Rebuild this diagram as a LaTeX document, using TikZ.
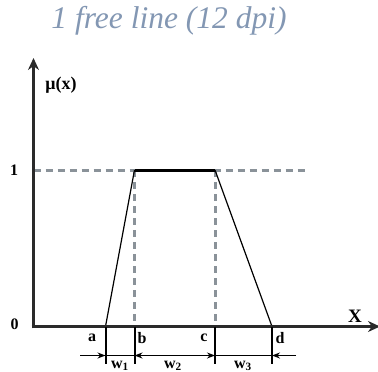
\documentclass[tikz,border=0pt]{standalone}
\usepackage{fontspec}
\setmainfont{Liberation Serif}
\usetikzlibrary{arrows.meta}
\definecolor{titlec}{HTML}{8397B3}
\definecolor{dashc}{HTML}{8A9299}
\definecolor{axisc}{HTML}{2A2A2A}
\tikzset{
  axis/.style={line width=3.6pt, draw=axisc, -{Stealth[length=12pt,width=11pt]}},
  guide/.style={line width=3pt, draw=dashc, dash pattern=on 7pt off 5pt},
  memb/.style={line width=1.2pt, draw=black},
  tick/.style={line width=2pt, draw=black},
  dim/.style={line width=1.6pt, draw=black},
  lab/.style={font=\bfseries\fontsize{16}{18}\selectfont, inner sep=0pt},
}
\begin{document}
\begin{tikzpicture}[x=1pt,y=-1pt]
\useasboundingbox (0,0) rectangle (378,372);
\node[font=\itshape\fontsize{31.5}{34}\selectfont, text=titlec, inner sep=0pt] (title) at (169,21) {1 free line (12 dpi)};
% axes
\coordinate (O) at (33.5,326.5);
\coordinate (ytop) at (33.5,58);
\coordinate (xend) at (380,326.5);
% points
\coordinate (a) at (105.5,326.5);
\coordinate (b) at (134.5,326.5);
\coordinate (c) at (215,326.5);
\coordinate (d) at (272,326.5);
\coordinate (bt) at (134.5,170);
\coordinate (ct) at (215,170);
\coordinate (ly) at (33.5,170);
\coordinate (lend) at (308,170);
% guides
\draw[guide] (ly) -- (lend);
\draw[guide] (bt) -- (b);
\draw[guide] (ct) -- (c);
% membership
\draw[memb] (a) -- (bt);
\draw[memb] (ct) -- (d);
\draw[line width=3pt] (bt) -- (ct);
% axes
\draw[axis] (33.5,328.3) -- (ytop);
\draw[axis] (31.7,326.5) -- (xend);
% ticks
\coordinate (ta) at (105.5,364);
\coordinate (tb) at (134.5,364);
\coordinate (tc) at (215,364);
\coordinate (td) at (272,364);
\draw[tick] (a) -- (ta);
\draw[tick] (b) -- (tb);
\draw[tick] (c) -- (tc);
\draw[tick] (d) -- (td);
% dimension arrows
\coordinate (la) at (80,355.5);
\coordinate (da) at (105.5,355.5);
\coordinate (db) at (134.5,355.5);
\coordinate (dc) at (215,355.5);
\coordinate (dd) at (272,355.5);
\coordinate (rd) at (296,355.5);
\draw[dim, -{Stealth[length=8pt,width=6pt]}] (la) -- (da);
\draw[dim] (da) -- (db);
\draw[dim, {Stealth[length=8pt,width=6pt]}-{Stealth[length=8pt,width=6pt]}] (db) -- (dc);
\draw[dim] (dc) -- (dd);
\draw[dim, -{Stealth[length=8pt,width=6pt]}] (rd) -- (dd);
% labels
\node[lab, font=\bfseries\fontsize{18}{20}\selectfont] (mu) at (61,85) {μ(x)};
\node[lab] (one) at (14,170) {1};
\node[lab] (zero) at (14.5,324.5) {0};
\node[lab, font=\bfseries\fontsize{19}{21}\selectfont] (X) at (355,316) {X};
\node[lab] (la1) at (92,338) {a};
\node[lab] (lb1) at (142,338) {b};
\node[lab] (lc1) at (204,338) {c};
\node[lab] (ld1) at (280,338) {d};
\node[lab] (w1) at (120,366) {w$_{\mathbf 1}$};
\node[lab] (w2) at (173,366) {w$_{\mathbf 2}$};
\node[lab] (w3) at (243,366) {w$_{\mathbf 3}$};
\end{tikzpicture}
\end{document}
